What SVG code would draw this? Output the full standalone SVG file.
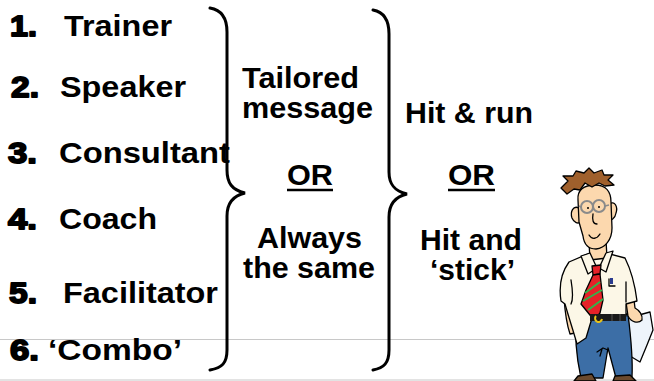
<svg xmlns="http://www.w3.org/2000/svg" width="654" height="381" viewBox="0 0 654 381">
  <style>
    .t { font-family: "Liberation Sans", Arial, sans-serif; font-weight: bold; font-size: 30px; fill: #000; }
    .n { font-family: "Liberation Sans", Arial, sans-serif; font-weight: bold; font-size: 30px; fill: #000; stroke: #000; stroke-width: 1.8px; stroke-linejoin: round; }
    .brace { fill: none; stroke: #000; stroke-width: 3; stroke-linecap: round; }
    .rule { stroke: #c8c8c8; stroke-width: 1.2; }
    .ul { stroke: #000; stroke-width: 2.5; }
    .ink { stroke: #000; stroke-width: 1.3; stroke-linejoin: round; stroke-linecap: round; }
  </style>

  <!-- faint ruled lines at the bottom -->
  <g id="rules">
    <line class="rule" x1="0" y1="339.5" x2="654" y2="339.5"/>
    <line class="rule" x1="0" y1="380" x2="654" y2="380"/>
  </g>

  <!-- numbered list of roles -->
  <g id="role-1"><text class="n" x="10" y="36" textLength="27" lengthAdjust="spacingAndGlyphs">1.</text><text class="t" x="64" y="36" textLength="108" lengthAdjust="spacingAndGlyphs">Trainer</text></g>
  <g id="role-2"><text class="n" x="11" y="97" textLength="28" lengthAdjust="spacingAndGlyphs">2.</text><text class="t" x="60" y="97" textLength="126" lengthAdjust="spacingAndGlyphs">Speaker</text></g>
  <g id="role-3"><text class="n" x="8" y="163" textLength="29" lengthAdjust="spacingAndGlyphs">3.</text><text class="t" x="59" y="163" textLength="171" lengthAdjust="spacingAndGlyphs">Consultant</text></g>
  <g id="role-4"><text class="n" x="8" y="229" textLength="29" lengthAdjust="spacingAndGlyphs">4.</text><text class="t" x="59" y="229" textLength="98" lengthAdjust="spacingAndGlyphs">Coach</text></g>
  <g id="role-5"><text class="n" x="9" y="303" textLength="28" lengthAdjust="spacingAndGlyphs">5.</text><text class="t" x="63" y="303" textLength="155" lengthAdjust="spacingAndGlyphs">Facilitator</text></g>
  <g id="role-6"><text class="n" x="10" y="360" textLength="29" lengthAdjust="spacingAndGlyphs">6.</text><text class="t" x="48" y="360" textLength="134" lengthAdjust="spacingAndGlyphs">‘Combo’</text></g>

  <!-- curly braces -->
  <g id="braces">
    <path class="brace" d="M210,8 C222,10 227,18 227,32 L227,170 C227,183 232,190 245,193 C232,196 227,204 227,216 L227,350 C227,363 222,368 210,370"/>
    <path class="brace" d="M373,10 C384,12 389,20 389,34 L389,172 C389,184 394,191 407,194 C394,197 389,205 389,217 L389,350 C389,363 384,368 373,370"/>
  </g>

  <!-- message options -->
  <g id="message">
    <text class="t" x="242" y="88" textLength="117" lengthAdjust="spacingAndGlyphs">Tailored</text>
    <text class="t" x="242" y="118" textLength="131" lengthAdjust="spacingAndGlyphs">message</text>
    <text class="t" x="287" y="185" textLength="46" lengthAdjust="spacingAndGlyphs">OR</text>
    <line class="ul" x1="287" y1="190" x2="333" y2="190"/>
    <text class="t" x="257" y="248" textLength="105" lengthAdjust="spacingAndGlyphs">Always</text>
    <text class="t" x="243" y="278" textLength="132" lengthAdjust="spacingAndGlyphs">the same</text>
  </g>

  <!-- delivery options -->
  <g id="delivery">
    <text class="t" x="405" y="123" textLength="128" lengthAdjust="spacingAndGlyphs">Hit &amp; run</text>
    <text class="t" x="448" y="185" textLength="47" lengthAdjust="spacingAndGlyphs">OR</text>
    <line class="ul" x1="448" y1="190" x2="495" y2="190"/>
    <text class="t" x="420" y="250" textLength="102" lengthAdjust="spacingAndGlyphs">Hit and</text>
    <text class="t" x="430" y="280" textLength="85" lengthAdjust="spacingAndGlyphs">‘stick’</text>
  </g>

  <!-- cartoon presenter -->
  <g id="presenter">
    <!-- paper in right hand -->
    <path class="ink" d="M628,318 L650,312 L653,330 L647,345 L640,362 L630,356 Z" fill="#eef4fb"/>
    <!-- trousers -->
    <path class="ink" d="M577,316 L628,314 C631,338 633,358 632,377 L616,378 L608,348 L603,378 L581,378 C577,360 574,338 577,316 Z" fill="#3c6ea6"/>
    <path class="ink" d="M597,352 L603,348 L608,350 M602,349 L600,356" fill="none"/>
    <!-- shoes -->
    <path class="ink" d="M578,376 L592,374 L596,381 L574,381 Z" fill="#6b4a2e"/>
    <path class="ink" d="M615,376 L630,375 L636,381 L613,381 Z" fill="#6b4a2e"/>
    <!-- arms -->
    <path class="ink" d="M564,298 C565,312 567,325 570,334 L575,333 C573,322 571,310 571,298 Z" fill="#fcd8ae"/>
    <path class="ink" d="M626,302 L628,316 C631,322 638,324 642,320 C643,315 639,310 635,308 L634,300 Z" fill="#fcd8ae"/>
    <!-- shirt -->
    <path class="ink" d="M569,262 L590,253 L606,253 L625,258 C631,270 635,285 637,301 L626,304 L626,316 L592,318 L586,338 L577,344 C573,330 569,318 565,304 L561,301 C559,288 561,273 569,262 Z" fill="#fcf7e7"/>
    <path class="ink" d="M571,280 C573,292 573,300 571,304 M626,282 L626,302" fill="none"/>
    <!-- neck and collar -->
    <path class="ink" d="M589,242 L606,240 L607,258 L590,260 Z" fill="#fcd8ae"/>
    <path class="ink" d="M581,256 L590,253 L597,268 L588,274 Z" fill="#fcf7e7"/>
    <path class="ink" d="M613,251 L606,253 L599,268 L606,272 Z" fill="#fcf7e7"/>
    <!-- tie -->
    <path class="ink" d="M592,266 L601,265 L600,274 L593,275 Z" fill="#e52229"/>
    <path class="ink" d="M593,275 L600,274 L603,300 L600,313 L594,320 L581,304 L586,290 Z" fill="#e52229"/>
    <path d="M585,293 L600,282 M583,301 L602,290 M588,310 L603,299" stroke="#32b34a" stroke-width="2" fill="none"/>
    <!-- pen in pocket -->
    <path class="ink" d="M609,279 L609,286 L615,286" fill="none"/>
    <rect x="610" y="278" width="3" height="6" fill="#2a3b8f"/>
    <!-- belt and buckle -->
    <rect x="590" y="314" width="36" height="7" fill="#1a1a1a"/>
    <path d="M596,316 A3.5,3.5 0 1 0 602,319" stroke="#e7c21a" stroke-width="2" fill="none"/>
    <path d="M612,314 L612,321 M620,314 L620,321" stroke="#555" stroke-width="1"/>
    <!-- ears -->
    <path class="ink" d="M579,208 C573,205 570,212 572,218 C574,223 578,224 581,222 Z" fill="#fcd8ae"/>
    <path class="ink" d="M609,204 C615,200 618,207 616,213 C615,219 611,221 608,219 Z" fill="#fcd8ae"/>
    <!-- face -->
    <path class="ink" d="M578,200 C577,190 584,185 595,185 C606,185 611,192 611,202 L612,228 C612,240 605,248 596,249 C588,249 584,244 583,236 L579,222 Z" fill="#fcd8ae"/>
    <!-- hair -->
    <path class="ink" d="M561,188 L568,181 L563,176 L573,176 L576,171 L584,173 L589,168 L594,173 L602,170 L604,175 L613,175 L608,180 L614,185 L605,186 L599,183 L592,187 L585,183 L580,190 L574,189 L567,194 Z" fill="#a0602c"/>
    <!-- glasses -->
    <circle cx="587" cy="207" r="6" fill="none" stroke="#8a8a8a" stroke-width="2"/>
    <circle cx="599" cy="206" r="6" fill="none" stroke="#8a8a8a" stroke-width="2"/>
    <path d="M581,207 L579,206 M605,206 L609,205" stroke="#8a8a8a" stroke-width="1.5"/>
    <circle cx="588" cy="208" r="1" fill="#000"/>
    <circle cx="599" cy="207" r="1" fill="#000"/>
    <!-- nose and mouth -->
    <path class="ink" d="M593,214 C592,220 593,224 597,224" fill="none"/>
    <path class="ink" d="M589,235 C592,240 597,239 600,234" fill="none"/>
  </g>
</svg>
